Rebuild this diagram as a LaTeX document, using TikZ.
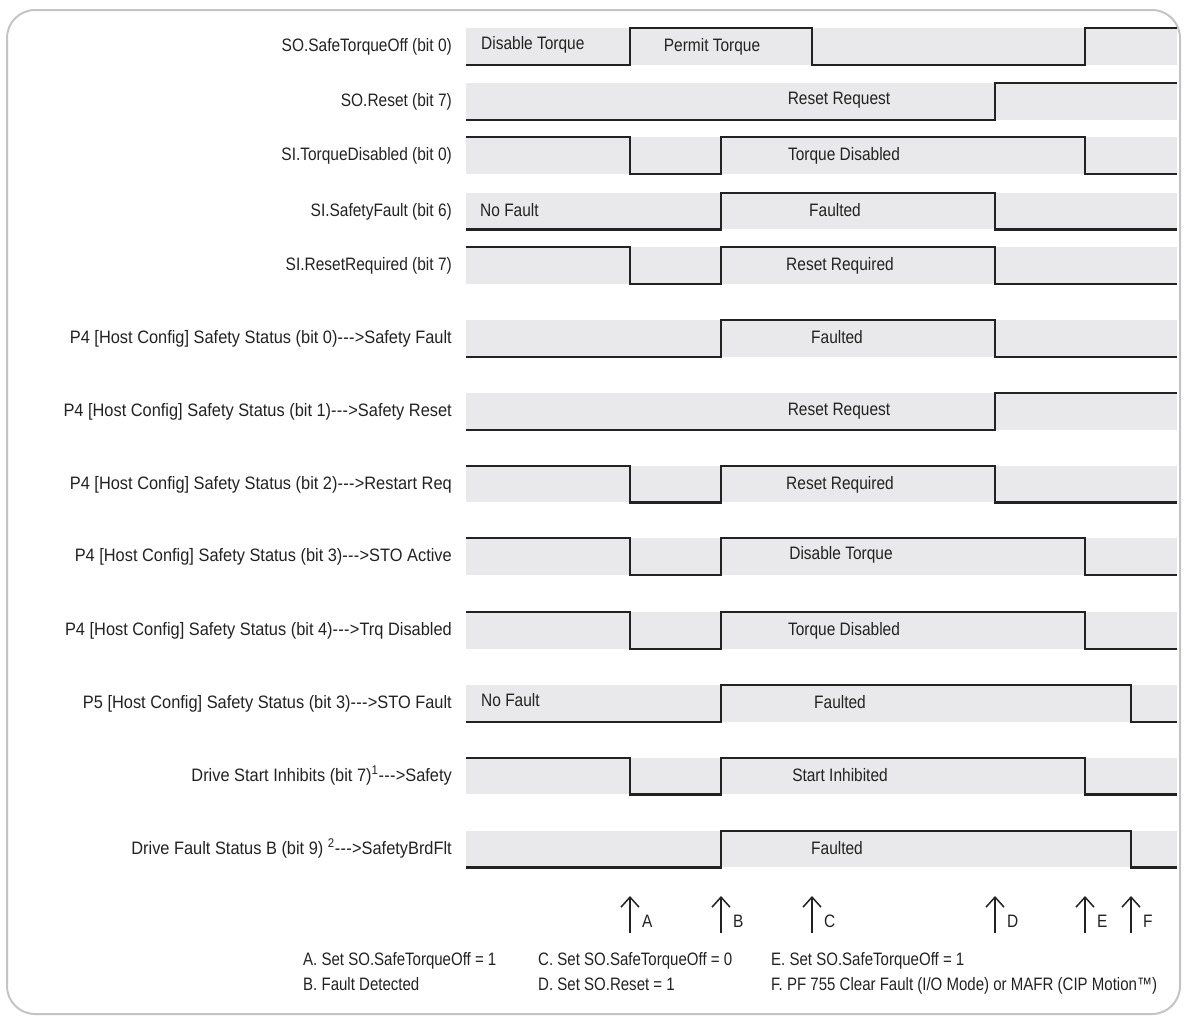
\documentclass[tikz,border=0pt]{standalone}
\usepackage{fontspec}
\setmainfont{Liberation Sans}[FakeStretch=0.86, Ligatures=TeXOff]
\newfontfamily\widefont{Liberation Sans}[FakeStretch=0.91, Ligatures=TeXOff]
\newfontfamily\narrowfont{Liberation Sans}[FakeStretch=0.835, Ligatures=TeXOff]
\usetikzlibrary{arrows.meta}
\definecolor{bandc}{HTML}{E9E9EB}
\definecolor{ink}{HTML}{222222}
\definecolor{framec}{HTML}{C4C4C4}
\newcommand\darr{-\kern0.3pt-\kern0.3pt-\kern0.3pt>}
\newcommand\tdrow[4]{%
  \pgfmathsetmacro\rtop{#2}%
  \pgfmathsetmacro\rbot{#2+36.7}%
  \pgfmathsetmacro\rbase{#2+23.3}%
  \fill[bandc] (466,\rtop) rectangle (1177,\rbot);
  \node[lbl] (#1) at (452,\rbase) {#3};
  \draw[wave] #4;
}
\begin{document}
\begin{tikzpicture}[x=1pt,y=-1pt,
  txt/.style={font=\fontsize{18}{21}\selectfont, text=ink, inner sep=0pt},
  lbl/.style={txt, anchor=base east},
  lft/.style={txt, anchor=base west},
  ctr/.style={txt, anchor=base},
  leg/.style={lft, font=\fontsize{18}{21}\selectfont\narrowfont},
  wave/.style={draw=ink, line width=2.2pt, line join=miter},
  evt/.style={-{Straight Barb[length=10pt,width=18pt]}, line width=1.5pt, draw=ink}
]
\useasboundingbox (0,0) rectangle (1185,1017);
\draw[framec, line width=2pt, rounded corners=28pt] (7,10) rectangle (1180,1014);

% 1
\tdrow{s1}{28.3}{SO.SafeTorqueOff (bit 0)}{(466,\rbot) -| (630,\rtop) -| (812,\rbot) -| (1085,\rtop) -- (1177,\rtop)}
\node[lft] (s1a) at (481,{\rtop+21.5}) {Disable Torque};
\node[ctr] (s1b) at (712,{\rtop+23}) {Permit Torque};
% 2
\tdrow{s2}{83.3}{SO.Reset (bit 7)}{(466,\rbot) -| (995,\rtop) -- (1177,\rtop)}
\node[ctr] (s2a) at (839,{\rtop+21}) {Reset Request};
% 3
\tdrow{s3}{137}{SI.TorqueDisabled (bit 0)}{(466,\rtop) -| (630,\rbot) -| (721,\rtop) -| (1085,\rbot) -- (1177,\rbot)}
\node[ctr] (s3a) at (844,\rbase) {Torque Disabled};
% 4
\tdrow{s4}{192.7}{SI.SafetyFault (bit 6)}{(466,\rbot) -| (721,\rtop) -| (995,\rbot) -- (1177,\rbot)}
\node[lft] (s4a) at (480,\rbase) {No Fault};
\node[ctr] (s4b) at (835,\rbase) {Faulted};
% 5
\tdrow{s5}{247.3}{SI.ResetRequired (bit 7)}{(466,\rtop) -| (630,\rbot) -| (721,\rtop) -| (995,\rbot) -- (1177,\rbot)}
\node[ctr] (s5a) at (840,\rbase) {Reset Required};
% 6
\tdrow{s6}{320}{\widefont P4 [Host Config] Safety Status (bit 0)\darr Safety Fault}{(466,\rbot) -| (721,\rtop) -| (995,\rbot) -- (1177,\rbot)}
\node[ctr] (s6a) at (837,\rbase) {Faulted};
% 7
\tdrow{s7}{393.3}{\widefont P4 [Host Config] Safety Status (bit 1)\darr Safety Reset}{(466,\rbot) -| (995,\rtop) -- (1177,\rtop)}
\node[ctr] (s7a) at (839,{\rtop+22}) {Reset Request};
% 8
\tdrow{s8}{465.7}{\widefont P4 [Host Config] Safety Status (bit 2)\darr Restart Req}{(466,\rtop) -| (630,\rbot) -| (721,\rtop) -| (995,\rbot) -- (1177,\rbot)}
\node[ctr] (s8a) at (840,\rbase) {Reset Required};
% 9
\tdrow{s9}{538.3}{\widefont P4 [Host Config] Safety Status (bit 3)\darr STO Active}{(466,\rtop) -| (630,\rbot) -| (721,\rtop) -| (1085,\rbot) -- (1177,\rbot)}
\node[ctr] (s9a) at (841,{\rtop+21.5}) {Disable Torque};
% 10
\tdrow{s10}{612}{\widefont P4 [Host Config] Safety Status (bit 4)\darr Trq Disabled}{(466,\rtop) -| (630,\rbot) -| (721,\rtop) -| (1085,\rbot) -- (1177,\rbot)}
\node[ctr] (s10a) at (844,\rbase) {Torque Disabled};
% 11
\tdrow{s11}{685}{\widefont P5 [Host Config] Safety Status (bit 3)\darr STO Fault}{(466,\rbot) -| (721,\rtop) -| (1131,\rbot) -- (1177,\rbot)}
\node[lft] (s11a) at (481,{\rtop+21}) {No Fault};
\node[ctr] (s11b) at (840,\rbase) {Faulted};
% 12
\tdrow{s12}{757.7}{\widefont Drive Start Inhibits (bit 7)\textsuperscript{1}\darr Safety}{(466,\rtop) -| (630,\rbot) -| (721,\rtop) -| (1085,\rbot) -- (1177,\rbot)}
\node[ctr] (s12a) at (840,\rbase) {Start Inhibited};
% 13
\tdrow{s13}{830.7}{\widefont Drive Fault Status B (bit 9) \textsuperscript{2}\darr SafetyBrdFlt}{(466,\rbot) -| (721,\rtop) -| (1131,\rbot) -- (1177,\rbot)}
\node[ctr] (s13a) at (837,\rbase) {Faulted};

% event arrows
\foreach \nm/\xx in {A/630,B/721,C/812,D/995,E/1085,F/1131}{
  \coordinate (e\nm b) at (\xx,933);
  \coordinate (e\nm t) at (\xx,896);
  \node[lft] (e\nm) at (\xx+12,927) {\nm};
  \draw[evt] (e\nm b) -- (e\nm t);
}

% legend
\node[leg] (la) at (303,965) {A. Set SO.SafeTorqueOff = 1};
\node[leg] (lb) at (303,990) {B. Fault Detected};
\node[leg] (lc) at (538,965) {C. Set SO.SafeTorqueOff = 0};
\node[leg] (ld) at (538,990) {D. Set SO.Reset = 1};
\node[leg] (le) at (771,965) {E. Set SO.SafeTorqueOff = 1};
\node[leg] (lf) at (771,990) {F. PF 755 Clear Fault (I/O Mode) or MAFR (CIP Motion™)};
\end{tikzpicture}
\end{document}
